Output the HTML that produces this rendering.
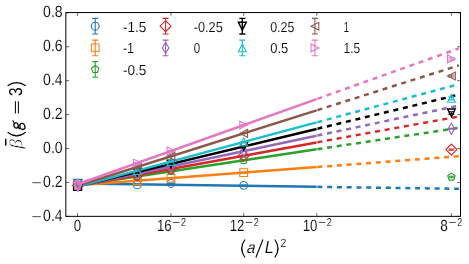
<!DOCTYPE html>
<html><head><meta charset="utf-8"><title>chart</title>
<style>html,body{margin:0;padding:0;background:#fff;}body{width:469px;height:264px;overflow:hidden;font-family:"Liberation Sans",sans-serif;}svg{display:block;will-change:transform}text{text-rendering:geometricPrecision}</style>
</head><body>
<svg width="469" height="264" viewBox="0 0 469 264">
<rect width="469" height="264" fill="#ffffff"/>
<defs><clipPath id="ax"><rect x="65.85" y="12.55" width="394.65" height="203.79999999999998"/></clipPath></defs>
<g clip-path="url(#ax)">
<path d="M137.32,184.56V185.26M134.32,184.56H140.32M134.32,185.26H140.32" stroke="#1f77b4" stroke-width="1.1" fill="none"/>
<circle cx="137.32" cy="184.91" r="3.90" fill="none" stroke="#1f77b4" stroke-width="1.1"/>
<path d="M170.98,183.12V183.82M167.98,183.12H173.98M167.98,183.82H173.98" stroke="#1f77b4" stroke-width="1.1" fill="none"/>
<circle cx="170.98" cy="183.47" r="3.90" fill="none" stroke="#1f77b4" stroke-width="1.1"/>
<path d="M243.68,185.01V185.71M240.68,185.01H246.68M240.68,185.71H246.68" stroke="#1f77b4" stroke-width="1.1" fill="none"/>
<circle cx="243.68" cy="185.36" r="3.90" fill="none" stroke="#1f77b4" stroke-width="1.1"/>
<line x1="77.6" y1="183.60" x2="316.6" y2="186.85" stroke="#1f77b4" stroke-width="2.5" stroke-linecap="butt"/>
<line x1="317.4" y1="186.86" x2="458.9" y2="188.79" stroke="#1f77b4" stroke-width="2.5" stroke-dasharray="5 4.77"/>
<path d="M137.32,180.35V181.05M134.32,180.35H140.32M134.32,181.05H140.32" stroke="#ff7f0e" stroke-width="1.1" fill="none"/>
<polygon points="133.42,176.80 141.22,176.80 141.22,184.60 133.42,184.60" fill="none" stroke="#ff7f0e" stroke-width="1.1" stroke-linejoin="miter"/>
<path d="M170.98,177.79V178.49M167.98,177.79H173.98M167.98,178.49H173.98" stroke="#ff7f0e" stroke-width="1.1" fill="none"/>
<polygon points="167.08,174.24 174.88,174.24 174.88,182.04 167.08,182.04" fill="none" stroke="#ff7f0e" stroke-width="1.1" stroke-linejoin="miter"/>
<path d="M243.68,172.26V172.96M240.68,172.26H246.68M240.68,172.96H246.68" stroke="#ff7f0e" stroke-width="1.1" fill="none"/>
<polygon points="239.78,168.71 247.58,168.71 247.58,176.51 239.78,176.51" fill="none" stroke="#ff7f0e" stroke-width="1.1" stroke-linejoin="miter"/>
<line x1="77.6" y1="185.25" x2="316.6" y2="167.06" stroke="#ff7f0e" stroke-width="2.5" stroke-linecap="butt"/>
<line x1="317.4" y1="167.00" x2="458.9" y2="156.23" stroke="#ff7f0e" stroke-width="2.5" stroke-dasharray="5 4.77"/>
<path d="M137.32,176.12V176.82M134.32,176.12H140.32M134.32,176.82H140.32" stroke="#2ca02c" stroke-width="1.1" fill="none"/>
<polygon points="137.32,172.57 141.03,175.26 139.62,179.62 135.03,179.62 133.62,175.26" fill="none" stroke="#2ca02c" stroke-width="1.1" stroke-linejoin="miter"/>
<path d="M170.98,171.03V171.73M167.98,171.03H173.98M167.98,171.73H173.98" stroke="#2ca02c" stroke-width="1.1" fill="none"/>
<polygon points="170.98,167.48 174.69,170.18 173.27,174.54 168.68,174.54 167.27,170.18" fill="none" stroke="#2ca02c" stroke-width="1.1" stroke-linejoin="miter"/>
<path d="M243.68,160.04V160.74M240.68,160.04H246.68M240.68,160.74H246.68" stroke="#2ca02c" stroke-width="1.1" fill="none"/>
<polygon points="243.68,156.49 247.39,159.18 245.97,163.54 241.39,163.54 239.97,159.18" fill="none" stroke="#2ca02c" stroke-width="1.1" stroke-linejoin="miter"/>
<path d="M451.41,176.20V177.80M448.41,176.20H454.41M448.41,177.80H454.41" stroke="#2ca02c" stroke-width="1.1" fill="none"/>
<polygon points="451.41,173.10 455.12,175.79 453.70,180.16 449.11,180.16 447.70,175.79" fill="none" stroke="#2ca02c" stroke-width="1.1" stroke-linejoin="miter"/>
<line x1="77.6" y1="185.50" x2="316.6" y2="149.36" stroke="#2ca02c" stroke-width="2.5" stroke-linecap="butt"/>
<line x1="317.4" y1="149.24" x2="458.9" y2="127.85" stroke="#2ca02c" stroke-width="2.5" stroke-dasharray="5 4.77"/>
<path d="M137.32,174.76V175.46M134.32,174.76H140.32M134.32,175.46H140.32" stroke="#d62728" stroke-width="1.1" fill="none"/>
<polygon points="137.32,169.60 142.84,175.11 137.32,180.63 131.81,175.11" fill="none" stroke="#d62728" stroke-width="1.1" stroke-linejoin="miter"/>
<path d="M170.98,168.63V169.33M167.98,168.63H173.98M167.98,169.33H173.98" stroke="#d62728" stroke-width="1.1" fill="none"/>
<polygon points="170.98,163.46 176.49,168.98 170.98,174.49 165.46,168.98" fill="none" stroke="#d62728" stroke-width="1.1" stroke-linejoin="miter"/>
<path d="M243.68,155.37V156.07M240.68,155.37H246.68M240.68,156.07H246.68" stroke="#d62728" stroke-width="1.1" fill="none"/>
<polygon points="243.68,150.21 249.20,155.72 243.68,161.24 238.17,155.72" fill="none" stroke="#d62728" stroke-width="1.1" stroke-linejoin="miter"/>
<path d="M451.41,149.00V150.20M448.41,149.00H454.41M448.41,150.20H454.41" stroke="#d62728" stroke-width="1.1" fill="none"/>
<polygon points="451.41,144.08 456.92,149.60 451.41,155.12 445.89,149.60" fill="none" stroke="#d62728" stroke-width="1.1" stroke-linejoin="miter"/>
<line x1="77.6" y1="186.00" x2="316.6" y2="142.43" stroke="#d62728" stroke-width="2.5" stroke-linecap="butt"/>
<line x1="317.4" y1="142.28" x2="458.9" y2="116.49" stroke="#d62728" stroke-width="2.5" stroke-dasharray="5 4.77"/>
<path d="M137.32,173.22V173.92M134.32,173.22H140.32M134.32,173.92H140.32" stroke="#9467bd" stroke-width="1.1" fill="none"/>
<polygon points="137.32,168.06 140.63,173.57 137.32,179.09 134.02,173.57" fill="none" stroke="#9467bd" stroke-width="1.1" stroke-linejoin="miter"/>
<path d="M170.98,166.11V166.81M167.98,166.11H173.98M167.98,166.81H173.98" stroke="#9467bd" stroke-width="1.1" fill="none"/>
<polygon points="170.98,160.94 174.29,166.46 170.98,171.98 167.67,166.46" fill="none" stroke="#9467bd" stroke-width="1.1" stroke-linejoin="miter"/>
<path d="M243.68,150.74V151.44M240.68,150.74H246.68M240.68,151.44H246.68" stroke="#9467bd" stroke-width="1.1" fill="none"/>
<polygon points="243.68,145.58 246.99,151.09 243.68,156.61 240.37,151.09" fill="none" stroke="#9467bd" stroke-width="1.1" stroke-linejoin="miter"/>
<path d="M451.41,128.30V129.30M448.41,128.30H454.41M448.41,129.30H454.41" stroke="#9467bd" stroke-width="1.1" fill="none"/>
<polygon points="451.41,123.28 454.72,128.80 451.41,134.32 448.10,128.80" fill="none" stroke="#9467bd" stroke-width="1.1" stroke-linejoin="miter"/>
<line x1="77.6" y1="186.20" x2="316.6" y2="135.68" stroke="#9467bd" stroke-width="2.5" stroke-linecap="butt"/>
<line x1="317.4" y1="135.51" x2="458.9" y2="105.59" stroke="#9467bd" stroke-width="2.5" stroke-dasharray="5 4.77"/>
<path d="M137.32,171.69V172.39M134.32,171.69H140.32M134.32,172.39H140.32" stroke="#000000" stroke-width="1.1" fill="none"/>
<polygon points="137.32,175.94 133.42,168.14 141.22,168.14" fill="none" stroke="#000000" stroke-width="1.3" stroke-linejoin="miter"/>
<path d="M170.98,163.59V164.29M167.98,163.59H173.98M167.98,164.29H173.98" stroke="#000000" stroke-width="1.1" fill="none"/>
<polygon points="170.98,167.84 167.08,160.04 174.88,160.04" fill="none" stroke="#000000" stroke-width="1.3" stroke-linejoin="miter"/>
<path d="M243.68,146.11V146.81M240.68,146.11H246.68M240.68,146.81H246.68" stroke="#000000" stroke-width="1.1" fill="none"/>
<polygon points="243.68,150.36 239.78,142.56 247.58,142.56" fill="none" stroke="#000000" stroke-width="1.3" stroke-linejoin="miter"/>
<path d="M451.41,111.70V114.10M448.41,111.70H454.41M448.41,114.10H454.41" stroke="#000000" stroke-width="1.1" fill="none"/>
<polygon points="451.41,116.80 447.51,109.00 455.31,109.00" fill="none" stroke="#000000" stroke-width="1.3" stroke-linejoin="miter"/>
<line x1="77.6" y1="186.40" x2="316.6" y2="128.92" stroke="#000000" stroke-width="2.5" stroke-linecap="butt"/>
<line x1="317.4" y1="128.73" x2="458.9" y2="94.70" stroke="#000000" stroke-width="2.5" stroke-dasharray="5 4.77"/>
<path d="M137.32,170.20V170.90M134.32,170.20H140.32M134.32,170.90H140.32" stroke="#17becf" stroke-width="1.1" fill="none"/>
<polygon points="137.32,166.65 133.42,174.45 141.22,174.45" fill="none" stroke="#17becf" stroke-width="1.1" stroke-linejoin="miter"/>
<path d="M170.98,161.16V161.86M167.98,161.16H173.98M167.98,161.86H173.98" stroke="#17becf" stroke-width="1.1" fill="none"/>
<polygon points="170.98,157.61 167.08,165.41 174.88,165.41" fill="none" stroke="#17becf" stroke-width="1.1" stroke-linejoin="miter"/>
<path d="M243.68,141.62V142.32M240.68,141.62H246.68M240.68,142.32H246.68" stroke="#17becf" stroke-width="1.1" fill="none"/>
<polygon points="243.68,138.07 239.78,145.87 247.58,145.87" fill="none" stroke="#17becf" stroke-width="1.1" stroke-linejoin="miter"/>
<path d="M451.41,96.70V99.90M448.41,96.70H454.41M448.41,99.90H454.41" stroke="#17becf" stroke-width="1.1" fill="none"/>
<polygon points="451.41,94.40 447.51,102.20 455.31,102.20" fill="none" stroke="#17becf" stroke-width="1.1" stroke-linejoin="miter"/>
<line x1="77.6" y1="186.60" x2="316.6" y2="122.38" stroke="#17becf" stroke-width="2.5" stroke-linecap="butt"/>
<line x1="317.4" y1="122.17" x2="458.9" y2="84.14" stroke="#17becf" stroke-width="2.5" stroke-dasharray="5 4.77"/>
<path d="M137.32,166.59V167.29M134.32,166.59H140.32M134.32,167.29H140.32" stroke="#8c564b" stroke-width="1.1" fill="none"/>
<polygon points="133.42,166.94 141.22,163.04 141.22,170.84" fill="none" stroke="#8c564b" stroke-width="1.1" stroke-linejoin="miter"/>
<path d="M170.98,155.97V156.67M167.98,155.97H173.98M167.98,156.67H173.98" stroke="#8c564b" stroke-width="1.1" fill="none"/>
<polygon points="167.08,156.32 174.88,152.42 174.88,160.22" fill="none" stroke="#8c564b" stroke-width="1.1" stroke-linejoin="miter"/>
<path d="M243.68,133.02V133.72M240.68,133.02H246.68M240.68,133.72H246.68" stroke="#8c564b" stroke-width="1.1" fill="none"/>
<polygon points="239.78,133.37 247.58,129.47 247.58,137.27" fill="none" stroke="#8c564b" stroke-width="1.1" stroke-linejoin="miter"/>
<path d="M451.41,75.00V77.00M448.41,75.00H454.41M448.41,77.00H454.41" stroke="#8c564b" stroke-width="1.1" fill="none"/>
<polygon points="447.51,76.00 455.31,72.10 455.31,79.90" fill="none" stroke="#8c564b" stroke-width="1.1" stroke-linejoin="miter"/>
<line x1="77.6" y1="185.80" x2="316.6" y2="110.35" stroke="#8c564b" stroke-width="2.5" stroke-linecap="butt"/>
<line x1="317.4" y1="110.10" x2="458.9" y2="65.42" stroke="#8c564b" stroke-width="2.5" stroke-dasharray="5 4.77"/>
<path d="M137.32,162.58V163.28M134.32,162.58H140.32M134.32,163.28H140.32" stroke="#e377c2" stroke-width="1.1" fill="none"/>
<polygon points="141.22,162.93 133.42,159.03 133.42,166.83" fill="none" stroke="#e377c2" stroke-width="1.1" stroke-linejoin="miter"/>
<path d="M170.98,150.60V151.30M167.98,150.60H173.98M167.98,151.30H173.98" stroke="#e377c2" stroke-width="1.1" fill="none"/>
<polygon points="174.88,150.95 167.08,147.05 167.08,154.85" fill="none" stroke="#e377c2" stroke-width="1.1" stroke-linejoin="miter"/>
<path d="M243.68,124.71V125.41M240.68,124.71H246.68M240.68,125.41H246.68" stroke="#e377c2" stroke-width="1.1" fill="none"/>
<polygon points="247.58,125.06 239.78,121.16 239.78,128.96" fill="none" stroke="#e377c2" stroke-width="1.1" stroke-linejoin="miter"/>
<path d="M451.41,57.70V60.10M448.41,57.70H454.41M448.41,60.10H454.41" stroke="#e377c2" stroke-width="1.1" fill="none"/>
<polygon points="455.31,58.90 447.51,55.00 447.51,62.80" fill="none" stroke="#e377c2" stroke-width="1.1" stroke-linejoin="miter"/>
<line x1="77.6" y1="184.20" x2="316.6" y2="99.09" stroke="#e377c2" stroke-width="2.5" stroke-linecap="butt"/>
<line x1="317.4" y1="98.81" x2="458.9" y2="48.42" stroke="#e377c2" stroke-width="2.5" stroke-dasharray="5 4.77"/>
<polygon points="73.60,182.20 81.60,182.20 81.60,190.20 73.60,190.20" fill="none" stroke="#000000" stroke-width="1.4" stroke-linejoin="miter"/>
<polygon points="77.80,187.60 73.70,179.40 81.90,179.40" fill="none" stroke="#1f77b4" stroke-width="1.5" stroke-linejoin="miter"/>
<polygon points="72.40,185.60 80.80,181.40 80.80,189.80" fill="none" stroke="#8c564b" stroke-width="1.1" stroke-linejoin="miter"/>
<polygon points="77.80,190.60 73.60,182.20 82.00,182.20" fill="rgba(227,119,194,0.2)" stroke="#e377c2" stroke-width="1.4" stroke-linejoin="miter"/>
<polygon points="77.80,179.36 81.36,185.30 77.80,191.24 74.24,185.30" fill="rgba(227,119,194,0.2)" stroke="#e377c2" stroke-width="1.4" stroke-linejoin="miter"/>
<line x1="77.6" y1="184.4" x2="90" y2="179.78" stroke="#e377c2" stroke-width="2.5"/>
</g>
<rect x="65.85" y="12.55" width="394.65" height="203.79999999999998" fill="none" stroke="#000" stroke-width="1"/>
<path d="M77.50,216.35v-3.2M77.50,12.55v3.2M170.98,216.35v-3.2M170.98,12.55v3.2M243.68,216.35v-3.2M243.68,12.55v3.2M316.80,216.35v-3.2M316.80,12.55v3.2M451.41,216.35v-3.2M451.41,12.55v3.2M65.85,12.79h3.2M460.5,12.79h-3.2M65.85,46.73h3.2M460.5,46.73h-3.2M65.85,80.66h3.2M460.5,80.66h-3.2M65.85,114.60h3.2M460.5,114.60h-3.2M65.85,148.53h3.2M460.5,148.53h-3.2M65.85,182.46h3.2M460.5,182.46h-3.2M65.85,216.40h3.2M460.5,216.40h-3.2" stroke="#000" stroke-width="0.6" fill="none"/>
<text x="62.60" y="17.04" font-family="Liberation Sans, sans-serif" font-size="16.2" text-anchor="end" textLength="19.5" lengthAdjust="spacingAndGlyphs" stroke="#fff" stroke-width="0.12" fill="#000" >0.8</text>
<text x="62.60" y="50.98" font-family="Liberation Sans, sans-serif" font-size="16.2" text-anchor="end" textLength="19.5" lengthAdjust="spacingAndGlyphs" stroke="#fff" stroke-width="0.12" fill="#000" >0.6</text>
<text x="62.60" y="84.91" font-family="Liberation Sans, sans-serif" font-size="16.2" text-anchor="end" textLength="19.5" lengthAdjust="spacingAndGlyphs" stroke="#fff" stroke-width="0.12" fill="#000" >0.4</text>
<text x="62.60" y="118.85" font-family="Liberation Sans, sans-serif" font-size="16.2" text-anchor="end" textLength="19.5" lengthAdjust="spacingAndGlyphs" stroke="#fff" stroke-width="0.12" fill="#000" >0.2</text>
<text x="62.60" y="152.78" font-family="Liberation Sans, sans-serif" font-size="16.2" text-anchor="end" textLength="19.5" lengthAdjust="spacingAndGlyphs" stroke="#fff" stroke-width="0.12" fill="#000" >0.0</text>
<text x="62.60" y="186.71" font-family="Liberation Sans, sans-serif" font-size="16.2" text-anchor="end" textLength="19.5" lengthAdjust="spacingAndGlyphs" stroke="#fff" stroke-width="0.12" fill="#000" >0.2</text>
<path d="M32.3,182.71H40.8" stroke="#000" stroke-width="0.7" fill="none"/>
<text x="62.60" y="220.65" font-family="Liberation Sans, sans-serif" font-size="16.2" text-anchor="end" textLength="19.5" lengthAdjust="spacingAndGlyphs" stroke="#fff" stroke-width="0.12" fill="#000" >0.4</text>
<path d="M32.3,216.65H40.8" stroke="#000" stroke-width="0.7" fill="none"/>
<text x="77.40" y="231.10" font-family="Liberation Sans, sans-serif" font-size="16.2" text-anchor="middle" textLength="7.4" lengthAdjust="spacingAndGlyphs" stroke="#fff" stroke-width="0.12" fill="#000" >0</text>
<text x="171.63" y="231.10" font-family="Liberation Sans, sans-serif" font-size="16.2" text-anchor="end" textLength="14.7" lengthAdjust="spacingAndGlyphs" stroke="#fff" stroke-width="0.12" fill="#000" >16</text>
<path d="M172.93,222.45h6.6" stroke="#000" stroke-width="0.7" fill="none"/>
<text x="181.03" y="225.70" font-family="Liberation Sans, sans-serif" font-size="11.5" textLength="5.0" lengthAdjust="spacingAndGlyphs" stroke="#fff" stroke-width="0.12" fill="#000" >2</text>
<text x="244.33" y="231.10" font-family="Liberation Sans, sans-serif" font-size="16.2" text-anchor="end" textLength="14.7" lengthAdjust="spacingAndGlyphs" stroke="#fff" stroke-width="0.12" fill="#000" >12</text>
<path d="M245.63,222.45h6.6" stroke="#000" stroke-width="0.7" fill="none"/>
<text x="253.73" y="225.70" font-family="Liberation Sans, sans-serif" font-size="11.5" textLength="5.0" lengthAdjust="spacingAndGlyphs" stroke="#fff" stroke-width="0.12" fill="#000" >2</text>
<text x="317.45" y="231.10" font-family="Liberation Sans, sans-serif" font-size="16.2" text-anchor="end" textLength="14.7" lengthAdjust="spacingAndGlyphs" stroke="#fff" stroke-width="0.12" fill="#000" >10</text>
<path d="M318.75,222.45h6.6" stroke="#000" stroke-width="0.7" fill="none"/>
<text x="326.85" y="225.70" font-family="Liberation Sans, sans-serif" font-size="11.5" textLength="5.0" lengthAdjust="spacingAndGlyphs" stroke="#fff" stroke-width="0.12" fill="#000" >2</text>
<text x="447.91" y="231.10" font-family="Liberation Sans, sans-serif" font-size="16.2" text-anchor="end" textLength="7.6" lengthAdjust="spacingAndGlyphs" stroke="#fff" stroke-width="0.12" fill="#000" >8</text>
<path d="M449.21,222.45h6.6" stroke="#000" stroke-width="0.7" fill="none"/>
<text x="457.31" y="225.70" font-family="Liberation Sans, sans-serif" font-size="11.5" textLength="5.0" lengthAdjust="spacingAndGlyphs" stroke="#fff" stroke-width="0.12" fill="#000" >2</text>
<g fill="none" stroke="#000" stroke-width="1.2">
<path d="M245.0,239.5Q238.4,248.5 245.0,257.5"/>
<path d="M262.9,239.5L255.9,257.5" stroke-width="1.1"/>
<path d="M274.8,239.5Q281.2,248.5 274.8,257.5"/>
</g>
<text x="246.60" y="253.40" font-family="Liberation Sans, sans-serif" font-size="16.4" textLength="8.4" lengthAdjust="spacingAndGlyphs" stroke="#fff" stroke-width="0.12" fill="#000" font-style="italic" transform="translate(246.6,253.4) skewX(-7) translate(-246.6,-253.4)">a</text>
<text x="264.80" y="253.40" font-family="Liberation Sans, sans-serif" font-size="17.4" textLength="9.0" lengthAdjust="spacingAndGlyphs" stroke="#fff" stroke-width="0.12" fill="#000" font-style="italic">L</text>
<text x="280.50" y="246.80" font-family="Liberation Sans, sans-serif" font-size="12.0" textLength="5.8" lengthAdjust="spacingAndGlyphs" stroke="#fff" stroke-width="0.12" fill="#000" >2</text>
<g transform="translate(21.8,148.2) rotate(-90)">
<text x="-0.60" y="0.00" font-family="Liberation Serif, serif" font-size="18" textLength="9.8" lengthAdjust="spacingAndGlyphs" fill="#000" font-style="italic" stroke="#fff" stroke-width="0.45">β</text>
<path d="M2.6,-16.1H9.4" stroke="#000" stroke-width="1.5" fill="none"/>
<path d="M16.1,3.9Q8.6,-5.2 16.1,-14.2" stroke="#000" stroke-width="1.2" fill="none"/>
<path d="M34.7,-3.4H47.0M34.7,-6.4H47.0" stroke="#000" stroke-width="1.0" fill="none"/>
<text x="52.20" y="0.00" font-family="Liberation Sans, sans-serif" font-size="18.6" textLength="8.6" lengthAdjust="spacingAndGlyphs" fill="#000" >3</text>
<path d="M62.4,3.9Q68.7,-5.2 62.4,-14.2" stroke="#000" stroke-width="1.2" fill="none"/>
</g>
<g fill="none" stroke="#000" stroke-width="1.25" stroke-linecap="round">
<ellipse cx="16.1" cy="125.5" rx="2.2" ry="2.5" transform="rotate(-18 16.1 125.5)"/>
<ellipse cx="22.4" cy="126.4" rx="2.5" ry="3.1" transform="rotate(-18 22.4 126.4)"/>
<path d="M13.0,120.8L14.2,123.0M18.2,127.6L20.0,128.6"/>
</g>
<path d="M95.20,18.40V34.00M92.20,18.40H98.20M92.20,34.00H98.20" stroke="#1f77b4" stroke-width="1.1" fill="none"/>
<circle cx="95.20" cy="26.20" r="3.90" fill="none" stroke="#1f77b4" stroke-width="1.1"/>
<text x="122.90" y="31.60" font-family="Liberation Sans, sans-serif" font-size="14.5" textLength="23.4" lengthAdjust="spacingAndGlyphs" stroke="#fff" stroke-width="0.12" fill="#000" >-1.5</text>
<path d="M95.20,40.10V55.70M92.20,40.10H98.20M92.20,55.70H98.20" stroke="#ff7f0e" stroke-width="1.1" fill="none"/>
<polygon points="91.30,44.00 99.10,44.00 99.10,51.80 91.30,51.80" fill="none" stroke="#ff7f0e" stroke-width="1.1" stroke-linejoin="miter"/>
<text x="122.90" y="53.30" font-family="Liberation Sans, sans-serif" font-size="14.5" textLength="11.2" lengthAdjust="spacingAndGlyphs" stroke="#fff" stroke-width="0.12" fill="#000" >-1</text>
<path d="M95.20,61.60V77.20M92.20,61.60H98.20M92.20,77.20H98.20" stroke="#2ca02c" stroke-width="1.1" fill="none"/>
<polygon points="95.20,65.50 98.91,68.19 97.49,72.56 92.91,72.56 91.49,68.19" fill="none" stroke="#2ca02c" stroke-width="1.1" stroke-linejoin="miter"/>
<text x="122.90" y="74.70" font-family="Liberation Sans, sans-serif" font-size="14.5" textLength="23.4" lengthAdjust="spacingAndGlyphs" stroke="#fff" stroke-width="0.12" fill="#000" >-0.5</text>
<path d="M165.60,18.40V34.00M162.60,18.40H168.60M162.60,34.00H168.60" stroke="#d62728" stroke-width="1.1" fill="none"/>
<polygon points="165.60,20.68 171.12,26.20 165.60,31.72 160.08,26.20" fill="none" stroke="#d62728" stroke-width="1.1" stroke-linejoin="miter"/>
<text x="193.70" y="31.60" font-family="Liberation Sans, sans-serif" font-size="14.5" textLength="29.1" lengthAdjust="spacingAndGlyphs" stroke="#fff" stroke-width="0.12" fill="#000" >-0.25</text>
<path d="M165.60,40.10V55.70M162.60,40.10H168.60M162.60,55.70H168.60" stroke="#9467bd" stroke-width="1.1" fill="none"/>
<polygon points="165.60,42.38 168.91,47.90 165.60,53.42 162.29,47.90" fill="none" stroke="#9467bd" stroke-width="1.1" stroke-linejoin="miter"/>
<text x="193.70" y="53.30" font-family="Liberation Sans, sans-serif" font-size="14.5" textLength="6.4" lengthAdjust="spacingAndGlyphs" stroke="#fff" stroke-width="0.12" fill="#000" >0</text>
<path d="M242.30,18.40V34.00M239.30,18.40H245.30M239.30,34.00H245.30" stroke="#000000" stroke-width="1.4" fill="none"/>
<polygon points="242.30,30.10 238.40,22.30 246.20,22.30" fill="none" stroke="#000000" stroke-width="1.5" stroke-linejoin="miter"/>
<text x="270.20" y="31.60" font-family="Liberation Sans, sans-serif" font-size="14.5" textLength="24.2" lengthAdjust="spacingAndGlyphs" stroke="#fff" stroke-width="0.12" fill="#000" >0.25</text>
<path d="M242.30,40.10V55.70M239.30,40.10H245.30M239.30,55.70H245.30" stroke="#17becf" stroke-width="1.1" fill="none"/>
<polygon points="242.30,44.00 238.40,51.80 246.20,51.80" fill="none" stroke="#17becf" stroke-width="1.1" stroke-linejoin="miter"/>
<text x="270.20" y="53.30" font-family="Liberation Sans, sans-serif" font-size="14.5" textLength="18.0" lengthAdjust="spacingAndGlyphs" stroke="#fff" stroke-width="0.12" fill="#000" >0.5</text>
<path d="M314.90,18.40V34.00M311.90,18.40H317.90M311.90,34.00H317.90" stroke="#8c564b" stroke-width="1.1" fill="none"/>
<polygon points="311.00,26.20 318.80,22.30 318.80,30.10" fill="none" stroke="#8c564b" stroke-width="1.1" stroke-linejoin="miter"/>
<text x="343.50" y="31.60" font-family="Liberation Sans, sans-serif" font-size="14.5" textLength="5.6" lengthAdjust="spacingAndGlyphs" stroke="#fff" stroke-width="0.12" fill="#000" >1</text>
<path d="M314.90,40.10V55.70M311.90,40.10H317.90M311.90,55.70H317.90" stroke="#e377c2" stroke-width="1.1" fill="none"/>
<polygon points="318.80,47.90 311.00,44.00 311.00,51.80" fill="none" stroke="#e377c2" stroke-width="1.1" stroke-linejoin="miter"/>
<text x="343.50" y="53.30" font-family="Liberation Sans, sans-serif" font-size="14.5" textLength="16.6" lengthAdjust="spacingAndGlyphs" stroke="#fff" stroke-width="0.12" fill="#000" >1.5</text>
</svg>
</body></html>
